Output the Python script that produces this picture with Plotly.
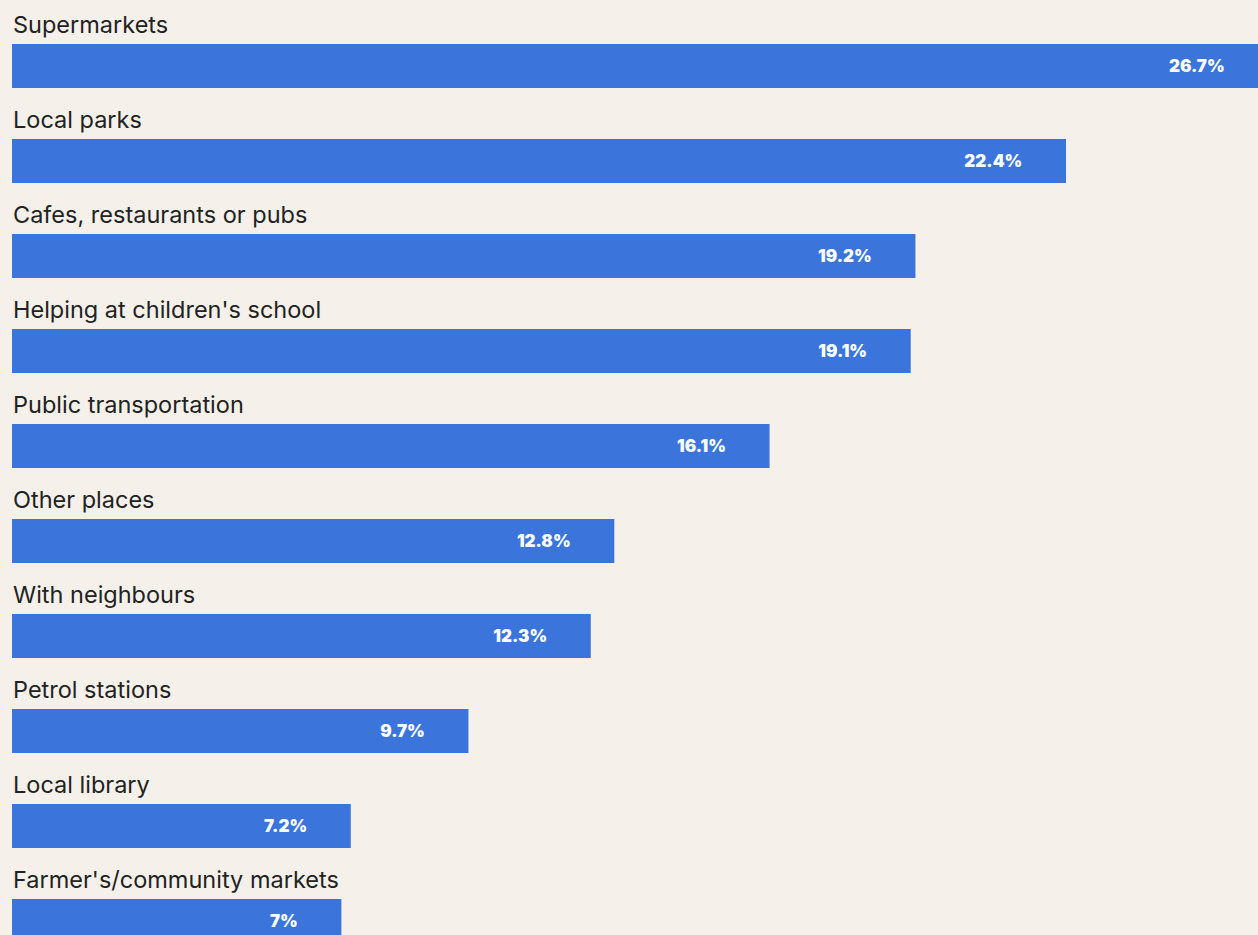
import plotly.graph_objects as go

# Datos
categorias = [
    "Supermarkets",
    "Local parks",
    "Cafes, restaurants or pubs",
    "Helping at children's school",
    "Public transportation",
    "Other places",
    "With neighbours",
    "Petrol stations",
    "Local library",
    "Farmer's/community markets",
]
valores = [26.7, 22.4, 19.2, 19.1, 16.1, 12.8, 12.3, 9.7, 7.2, 7.0]
etiquetas = ["26.7%", "22.4%", "19.2%", "19.1%", "16.1%", "12.8%", "12.3%", "9.7%", "7.2%", "7%"]

FONDO = "#F5F1EA"
AZUL = "#3B75DB"
PAD = "\u00a0" * 12

fig = go.Figure()

fig.add_trace(go.Bar(
    x=valores,
    y=list(range(len(categorias))),
    orientation="h",
    marker=dict(color=AZUL, line=dict(width=0)),
    width=44 / 95,
    text=[e + PAD for e in etiquetas],
    textposition="inside",
    insidetextanchor="end",
    textangle=0,
    constraintext="none",
    insidetextfont=dict(family="Inter", size=17, color="white", weight=900),
    hoverinfo="skip",
))

# Etiquetas de categoría encima de cada barra
for i, cat in enumerate(categorias):
    fig.add_annotation(
        x=0, xref="paper", xanchor="left", xshift=-1,
        y=i, yref="y", yanchor="middle", yshift=42,
        text=cat, showarrow=False,
        font=dict(family="Inter", size=23.5, color="#222222"),
    )

fig.update_layout(
    width=1258,
    height=935,
    margin=dict(l=12, r=0, t=0, b=0),
    paper_bgcolor=FONDO,
    plot_bgcolor=FONDO,
    showlegend=False,
    xaxis=dict(range=[0, 26.48], visible=False, fixedrange=True),
    yaxis=dict(range=[(935 - 66) / 95, -66 / 95], visible=False, fixedrange=True),
)

# quitar el margen por defecto del <body>
fig.write_html(
    "out.html",
    config={"displayModeBar": False},
    post_script="document.body.style.margin='0';document.body.style.overflow='hidden';"
                f"document.body.style.background='{FONDO}';",
)
